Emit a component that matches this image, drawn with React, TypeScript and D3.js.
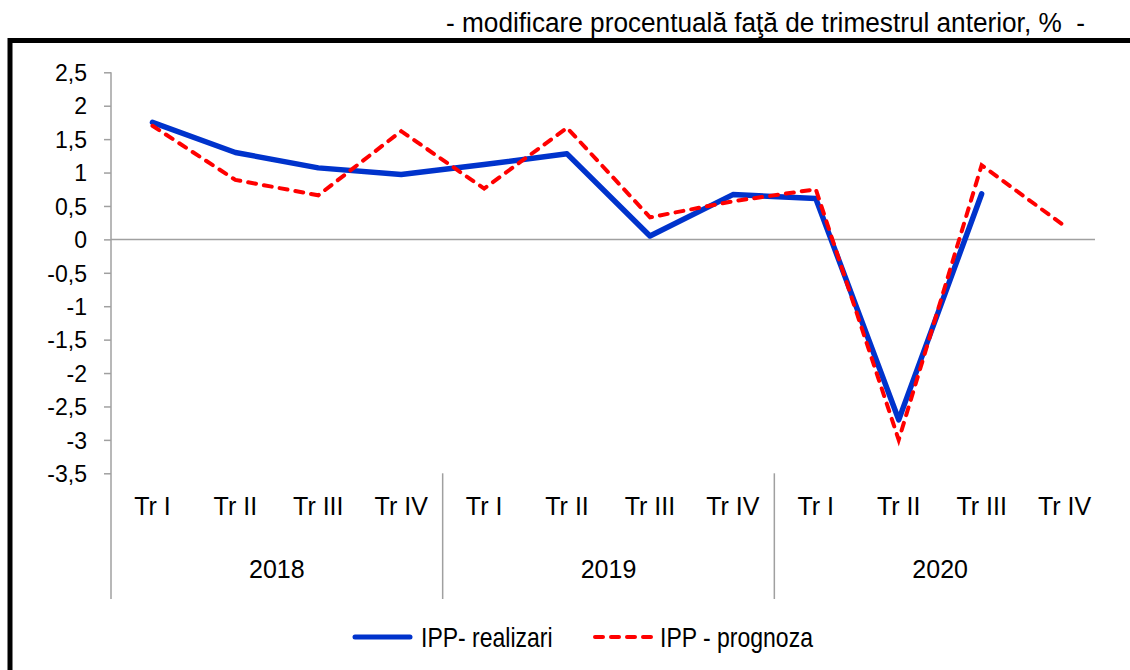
import React, { useRef, useEffect } from 'react';
import * as d3 from 'd3';

const quarters = ['Tr I', 'Tr II', 'Tr III', 'Tr IV', 'Tr I', 'Tr II', 'Tr III', 'Tr IV', 'Tr I', 'Tr II', 'Tr III', 'Tr IV'];
const years = ['2018', '2019', '2020'];
const realizari: (number | null)[] = [1.75, 1.3, 1.07, 0.97, 1.12, 1.28, 0.05, 0.67, 0.61, -2.7, 0.68, null];
const prognoza: (number | null)[] = [1.7, 0.89, 0.66, 1.62, 0.76, 1.67, 0.33, 0.57, 0.75, -3.0, 1.11, 0.2];
const yTicks = [2.5, 2, 1.5, 1, 0.5, 0, -0.5, -1, -1.5, -2, -2.5, -3, -3.5];
const titleText = '- modificare procentuală faţă de trimestrul anterior, %  -';
const legendLabels = ['IPP- realizari', 'IPP - prognoza'];

const App = () => {
    const chartRef = useRef<SVGSVGElement>(null);

    useEffect(() => {
        const width = 1130;
        const height = 670;
        const left = 111;
        const right = 1106;
        const top = 72.3;
        const bottom = 473.3;
        const font = '"Liberation Sans", Arial, sans-serif';
        const blue = '#0033cc';
        const red = '#ff0000';
        const axisGrey = '#a0a0a0';

        const svg = d3.select(chartRef.current)
            .attr('width', width)
            .attr('height', height);
        svg.selectAll('*').remove();

        const x = d3.scaleBand<number>()
            .domain(d3.range(quarters.length))
            .range([left, right]);

        const y = d3.scaleLinear()
            .domain([-3.5, 2.5])
            .range([bottom, top]);

        // frame
        svg.append('rect').attr('x', 10).attr('y', 40.5).attr('width', width).attr('height', height)
            .attr('fill', 'none').attr('stroke', '#000').attr('stroke-width', 5);

        svg.append('text')
            .attr('transform', 'translate(1085,32) scale(1,1.06)')
            .attr('text-anchor', 'end')
            .attr('font-family', font).attr('font-size', 26.2)
            .attr('fill', '#000')
            .style('white-space', 'pre')
            .text(titleText);

        // y axis
        const yAxis = svg.append('g')
            .attr('transform', `translate(${left},0)`)
            .call(d3.axisLeft(y).tickValues(yTicks).tickSize(7).tickPadding(17)
                .tickFormat(d => String(d).replace('.', ',')));
        yAxis.select('.domain').remove();
        yAxis.selectAll('line').attr('stroke', axisGrey).attr('stroke-width', 1.5);
        yAxis.selectAll('text').attr('font-family', font).attr('font-size', 23).attr('fill', '#000')
            .attr('dy', '0.36em');
        svg.append('line').attr('x1', left).attr('x2', left).attr('y1', top).attr('y2', 599)
            .attr('stroke', axisGrey).attr('stroke-width', 1.5);

        // zero line
        svg.append('line').attr('x1', left).attr('x2', 1095).attr('y1', y(0)).attr('y2', y(0))
            .attr('stroke', axisGrey).attr('stroke-width', 1.5);

        // year separators
        [4, 8].forEach(i => {
            svg.append('line').attr('x1', x(i)!).attr('x2', x(i)!).attr('y1', bottom).attr('y2', 599)
                .attr('stroke', axisGrey).attr('stroke-width', 1.5);
        });

        svg.append('g').selectAll('text').data(quarters).join('text')
            .attr('x', (d, i) => x(i)! + x.bandwidth() / 2)
            .attr('y', 515)
            .attr('text-anchor', 'middle')
            .attr('font-family', font).attr('font-size', 25).attr('fill', '#000')
            .text(d => d);

        svg.append('g').selectAll('text').data(years).join('text')
            .attr('x', (d, i) => x(i * 4)! + x.bandwidth() * 2)
            .attr('y', 578)
            .attr('text-anchor', 'middle')
            .attr('font-family', font).attr('font-size', 25).attr('fill', '#000')
            .text(d => d);

        const line = d3.line<number | null>()
            .defined(d => d !== null)
            .x((d, i) => x(i)! + x.bandwidth() / 2)
            .y(d => y(d as number));

        svg.append('path').datum(realizari).attr('d', line)
            .attr('fill', 'none').attr('stroke', blue).attr('stroke-width', 5.5)
            .attr('stroke-linejoin', 'round').attr('stroke-linecap', 'round');

        svg.append('path').datum(prognoza).attr('d', line)
            .attr('fill', 'none').attr('stroke', red).attr('stroke-width', 4)
            .attr('stroke-dasharray', '8,8').attr('stroke-linecap', 'round');

        // legend
        const legend = svg.append('g');
        legend.append('line').attr('x1', 355).attr('x2', 410).attr('y1', 637).attr('y2', 637)
            .attr('stroke', blue).attr('stroke-width', 5).attr('stroke-linecap', 'round');
        legend.append('line').attr('x1', 595).attr('x2', 651).attr('y1', 637).attr('y2', 637)
            .attr('stroke', red).attr('stroke-width', 4).attr('stroke-dasharray', '8,8').attr('stroke-linecap', 'round');
        legend.selectAll('text').data(legendLabels).join('text')
            .attr('transform', (d, i) => `translate(${i === 0 ? 421 : 660},646.5) scale(1,1.18)`)
            .attr('font-family', font).attr('font-size', 23).attr('fill', '#000')
            .text(d => d);
    }, []);

    return <svg ref={chartRef} style={{ position: 'absolute', left: 0, top: 0 }}></svg>;
};

export default App;
